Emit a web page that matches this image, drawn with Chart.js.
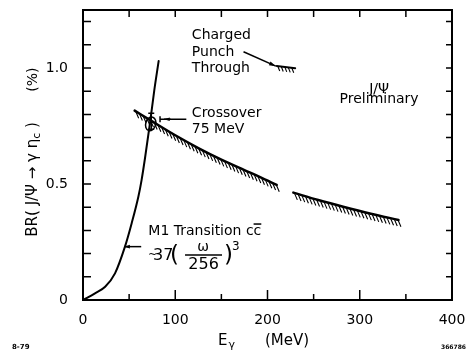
<!DOCTYPE html>
<html lang="en">
<head>
<meta charset="UTF-8">
<title>BR(J/Psi -> gamma eta_c)</title>
<script src="https://cdn.jsdelivr.net/npm/chart.js"></script>
<style>
    body { margin: 0; background: #fff; }
    .wrap { width: 471px; height: 354px; position: relative; }
</style>
</head>
<body>
<div class="wrap"><canvas id="chart"></canvas></div>
<script>
// M1 transition curve (E in MeV, BR in %)
const m1Energy = [0, 13, 24, 34.7, 45.5, 52.7, 60, 63.5, 67.2, 72.6, 77.3, 82];
const m1BR     = [0, 0.029, 0.057, 0.115, 0.23, 0.33, 0.445, 0.517, 0.611, 0.762, 0.905, 1.03];

// hatched upper limit, two pieces
const limitEnergyA = [56, 75, 100, 125, 150, 175, 192, 210];
const limitBRA     = [0.816, 0.77, 0.71, 0.655, 0.605, 0.56, 0.53, 0.496];
const limitEnergyB = [228, 255, 282, 312, 342];
const limitBRB     = [0.463, 0.431, 0.402, 0.372, 0.345];

// charged punch through limit
const punchEnergy = [210, 230];
const punchBR     = [1.009, 0.999];

// crossover point
const crossEnergy = 74;
const crossBR     = [0.736, 0.805];

const xTickLabels = ['0', '100', '200', '300', '400'];
const yTickLabels = ['0', '0.5', '1.0'];

const toXY = (xs, ys) => xs.map((x, i) => ({ x: x, y: ys[i] }));
const FONT = '"DejaVu Sans"';
Chart.defaults.font.family = FONT;
Chart.defaults.color = '#000';

// short slanted strokes under a line
const hatch = {
    id: 'hatch',
    afterDatasetsDraw(chart) {
        const ctx = chart.ctx;
        chart.data.datasets.forEach((ds, i) => {
            if (!ds.hatch) return;
            const meta = chart.getDatasetMeta(i);
            const pts = meta.data;
            const x0 = pts[0].x, x1 = pts[pts.length - 1].x;
            ctx.save();
            ctx.strokeStyle = '#000';
            ctx.lineWidth = 1.1;
            ctx.beginPath();
            for (let px = x0 + 1; px <= x1; px += ds.hatch.gap) {
                let p = meta.dataset.interpolate({ x: px }, 'x');
                if (Array.isArray(p)) p = p[0];
                if (!p) continue;
                ctx.moveTo(p.x, p.y);
                ctx.lineTo(p.x + ds.hatch.dx, p.y + ds.hatch.len);
            }
            ctx.stroke();
            ctx.restore();
        });
    }
};

// box and inward ticks
const frame = {
    id: 'frame',
    afterDraw(chart) {
        const { ctx, chartArea: a, scales: { x, y } } = chart;
        ctx.save();
        ctx.strokeStyle = '#000';
        ctx.lineWidth = 2;
        ctx.strokeRect(a.left, a.top, a.right - a.left, a.bottom - a.top);
        ctx.lineWidth = 1.5;
        ctx.beginPath();
        x.ticks.forEach(t => {
            const px = x.getPixelForValue(t.value);
            if (px <= a.left + 1 || px >= a.right - 1) return;
            const major = t.value % 100 === 0;
            ctx.moveTo(px, a.bottom); ctx.lineTo(px, a.bottom - (major ? 10 : 6));
            ctx.moveTo(px, a.top); ctx.lineTo(px, a.top + 7);
        });
        y.ticks.forEach(t => {
            const py = y.getPixelForValue(t.value);
            if (py >= a.bottom - 1 || py <= a.top + 1) return;
            ctx.moveTo(a.left, py); ctx.lineTo(a.left + 8, py);
            ctx.moveTo(a.right, py); ctx.lineTo(a.right - 6, py);
        });
        ctx.stroke();
        ctx.restore();
    }
};

function arrow(ctx, x1, y1, x2, y2, head) {
    const ang = Math.atan2(y2 - y1, x2 - x1);
    ctx.beginPath();
    ctx.moveTo(x1, y1);
    ctx.lineTo(x2, y2);
    ctx.stroke();
    ctx.beginPath();
    ctx.moveTo(x2, y2);
    ctx.lineTo(x2 - head * Math.cos(ang - 0.3), y2 - head * Math.sin(ang - 0.3));
    ctx.lineTo(x2 - head * Math.cos(ang + 0.3), y2 - head * Math.sin(ang + 0.3));
    ctx.closePath();
    ctx.fill();
}

// texts, arrows and axis titles
const notes = {
    id: 'notes',
    afterDraw(chart) {
        const { ctx, scales: { x, y } } = chart;
        const X = v => x.getPixelForValue(v);
        const Y = v => y.getPixelForValue(v);
        const font = (s, b) => (b ? 'bold ' : '') + s + 'px ' + FONT;
        ctx.save();
        ctx.fillStyle = '#000';
        ctx.strokeStyle = '#000';
        ctx.lineWidth = 1.5;
        ctx.textBaseline = 'alphabetic';

        ctx.font = font(14);
        ctx.textAlign = 'left';
        ctx.fillText('Charged', X(118), Y(1.125));
        ctx.fillText('Punch', X(118), Y(1.053));
        ctx.fillText('Through', X(118), Y(0.981));
        arrow(ctx, X(174), Y(1.07), X(209), Y(1.008), 7);

        ctx.textAlign = 'center';
        ctx.fillText('J/\u03A8', X(321), Y(0.892));
        ctx.fillText('Preliminary', X(321), Y(0.847));

        ctx.textAlign = 'left';
        ctx.fillText('Crossover', X(118), Y(0.79));
        ctx.fillText('75 MeV', X(118), Y(0.718));
        // crossover pointer
        const cy = Y(0.779), bx = X(83.5);
        ctx.beginPath();
        ctx.moveTo(X(112), cy); ctx.lineTo(bx, cy);
        ctx.moveTo(bx, cy - 3); ctx.lineTo(bx, cy + 3);
        ctx.stroke();
        arrow(ctx, X(95), cy, bx + 4, cy, 6);
        // error bar and ellipse on the crossover
        const ex = X(crossEnergy);
        ctx.beginPath();
        ctx.moveTo(ex, Y(crossBR[0])); ctx.lineTo(ex, Y(crossBR[1]));
        ctx.moveTo(ex - 3, Y(crossBR[0])); ctx.lineTo(ex + 3, Y(crossBR[0]));
        ctx.moveTo(ex - 3, Y(crossBR[1])); ctx.lineTo(ex + 3, Y(crossBR[1]));
        ctx.stroke();
        ctx.beginPath();
        ctx.ellipse(X(73.4), Y(0.759), 5, 7, 0.3, 0, Math.PI * 2);
        ctx.stroke();

        // M1 label
        const mx = X(70.8), my = Y(0.28);
        ctx.font = font(14);
        const s1 = 'M1 Transition c';
        ctx.fillText(s1 + 'c', mx, my);
        const w1 = ctx.measureText(s1).width;
        const wc = ctx.measureText('c').width;
        ctx.beginPath();
        ctx.moveTo(mx + w1, my - 11); ctx.lineTo(mx + w1 + wc, my - 11);
        ctx.stroke();
        arrow(ctx, X(63.1), Y(0.23), X(44.6), Y(0.23), 6);

        // ~37 (w/256)^3
        const fx = X(70.5), fy = Y(0.172);
        ctx.font = font(11);
        ctx.fillText('~', fx, fy - 2);
        ctx.font = font(16);
        ctx.fillText('37', fx + 5, fy);
        ctx.font = font(23);
        ctx.fillText('(', fx + 22, fy + 2);
        ctx.fillText(')', fx + 76, fy + 2);
        ctx.textAlign = 'center';
        ctx.font = font(14);
        ctx.fillText('\u03C9', fx + 55, fy - 9);
        ctx.font = font(16);
        ctx.fillText('256', fx + 55.5, fy + 8.5);
        ctx.beginPath();
        ctx.moveTo(fx + 37, fy - 5); ctx.lineTo(fx + 74, fy - 5);
        ctx.stroke();
        ctx.textAlign = 'left';
        ctx.font = font(12);
        ctx.fillText('3', fx + 84, fy - 10);

        // x title
        ctx.font = font(15);
        ctx.fillText('E', 218, 345);
        const we = ctx.measureText('E').width;
        ctx.font = font(11);
        ctx.fillText('\u03B3', 218 + we + 1, 348);
        ctx.font = font(15);
        ctx.fillText('(MeV)', 265, 345);

        // y title
        ctx.save();
        ctx.translate(37, 236.7);
        ctx.rotate(-Math.PI / 2);
        let cx = 0;
        const put = (str, size, dy) => {
            ctx.font = font(size);
            ctx.fillText(str, cx, dy);
            cx += ctx.measureText(str).width;
        };
        put('BR( J/\u03A8 \u2192 \u03B3 \u03B7', 15, 0);
        put('c', 11, 3);
        put(' )', 15, 0);
        cx = 145;
        put('(%)', 14, 0);
        ctx.restore();

        // plate numbers
        ctx.font = font(7, true);
        ctx.fillText('8-79', 12, 349);
        ctx.textAlign = 'right';
        ctx.font = font(6, true);
        ctx.fillText('366786', 466, 349);
        ctx.restore();
    }
};

// keep the plot box where the layout padding puts it
const noPad = s => { s.paddingTop = 0; s.paddingBottom = 0; s.paddingLeft = 0; s.paddingRight = 0; };

new Chart(document.getElementById('chart'), {
    type: 'line',
    data: {
        datasets: [
            { data: toXY(m1Energy, m1BR), borderWidth: 2 },
            { data: toXY(limitEnergyA, limitBRA), borderWidth: 2.5, hatch: { gap: 3.7, dx: 3, len: 7 } },
            { data: toXY(limitEnergyB, limitBRB), borderWidth: 2.5, hatch: { gap: 3.7, dx: 3, len: 7 } },
            { data: toXY(punchEnergy, punchBR), borderWidth: 2, hatch: { gap: 3.5, dx: 2, len: 5 } }
        ]
    },
    options: {
        animation: false,
        responsive: true,
        maintainAspectRatio: false,
        layout: { padding: { top: 10, right: 19, left: 0, bottom: 0 } },
        plugins: { legend: { display: false }, tooltip: { enabled: false } },
        elements: {
            point: { radius: 0 },
            line: { borderColor: '#000', fill: false, cubicInterpolationMode: 'monotone', borderCapStyle: 'round' }
        },
        scales: {
            x: {
                type: 'linear', min: 0, max: 400,
                grid: { display: false, drawTicks: false },
                border: { display: false },
                ticks: {
                    stepSize: 50, autoSkip: false, maxRotation: 0, padding: 12,
                    color: '#000', font: { size: 14 },
                    callback: v => (v % 100 === 0 ? xTickLabels[v / 100] : '')
                },
                afterFit: s => { s.height = 54; noPad(s); }
            },
            y: {
                type: 'linear', min: 0, max: 1.25,
                grid: { display: false, drawTicks: false },
                border: { display: false },
                ticks: {
                    stepSize: 0.1, includeBounds: false, autoSkip: false, maxTicksLimit: 20, padding: 15,
                    color: '#000', font: { size: 14 },
                    callback: v => {
                        const k = Math.round(v * 2);
                        return Math.abs(v * 2 - k) < 1e-6 && yTickLabels[k] ? yTickLabels[k] : '';
                    }
                },
                afterFit: s => { s.width = 83; noPad(s); }
            }
        }
    },
    plugins: [hatch, frame, notes]
});
</script>
</body>
</html>
